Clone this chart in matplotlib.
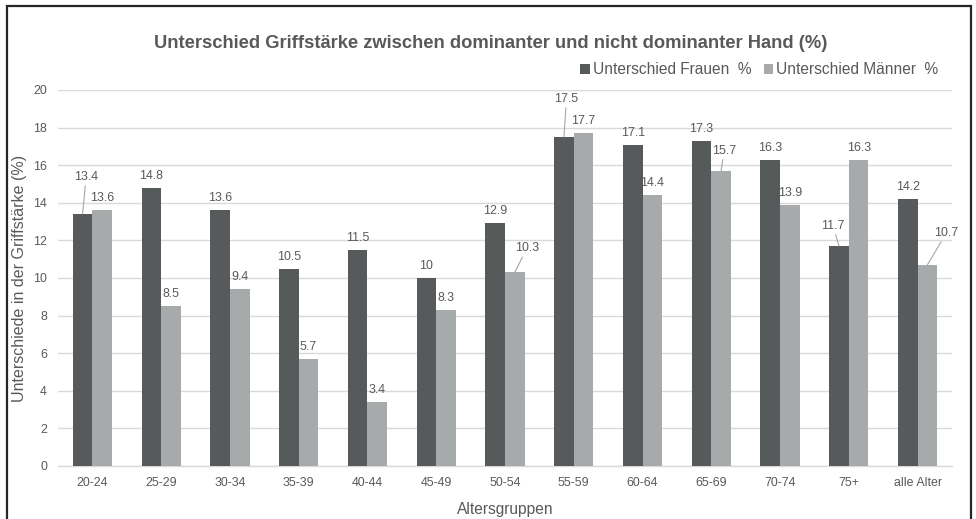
import matplotlib
matplotlib.use("Agg")
import matplotlib.pyplot as plt
from matplotlib.patches import Rectangle
import numpy as np

# Data
age_groups = ["20-24", "25-29", "30-34", "35-39", "40-44", "45-49", "50-54",
              "55-59", "60-64", "65-69", "70-74", "75+", "alle Alter"]
women = [13.4, 14.8, 13.6, 10.5, 11.5, 10, 12.9, 17.5, 17.1, 17.3, 16.3, 11.7, 14.2]
men = [13.6, 8.5, 9.4, 5.7, 3.4, 8.3, 10.3, 17.7, 14.4, 15.7, 13.9, 16.3, 10.7]
series_names = ["Unterschied Frauen  %", "Unterschied Männer  %"]
y_ticks = [0, 2, 4, 6, 8, 10, 12, 14, 16, 18, 20]

# Labels moved away from their bar (pixel offsets), drawn with a leader line
women_moved = {0: (3.5, 37), 7: (2.5, 38), 11: (-6, 20)}
men_moved = {6: (12, 24), 9: (3, 20), 12: (19, 32)}

plt.rcParams["font.family"] = ["Liberation Sans", "DejaVu Sans"]
TXT = "#595959"
DARK = "#575a5a"
LIGHT = "#a7aaaa"
GRID = "#d9d9d9"
LBL = 8.9

W, H, DPI = 976, 519, 100
fig = plt.figure(figsize=(W / DPI, H / DPI), dpi=DPI)
fig.patch.set_facecolor("white")

ax = fig.add_axes([58 / W, 53 / H, (952 - 58) / W, (466 - 90) / H])
x = np.arange(len(age_groups))
bw = 0.285
b1 = ax.bar(x - bw / 2, women, bw, color=DARK, label=series_names[0], zorder=3)
b2 = ax.bar(x + bw / 2, men, bw, color=LIGHT, label=series_names[1], zorder=3)

ax.set_xlim(-0.5, len(age_groups) - 0.5)
ax.set_ylim(0, 20)
ax.set_yticks(y_ticks)
ax.set_xticks(x)
ax.set_xticklabels(age_groups)
ax.tick_params(axis="both", length=0, labelsize=LBL, colors=TXT)
ax.tick_params(axis="y", pad=8)
ax.tick_params(axis="x", pad=8)
ax.grid(axis="y", color=GRID, lw=1, zorder=0)
for s in ["top", "right", "left"]:
    ax.spines[s].set_visible(False)
ax.spines["bottom"].set_color(GRID)
ax.spines["bottom"].set_linewidth(1)

ax.set_xlabel("Altersgruppen", fontsize=11.2, color=TXT, labelpad=9)
ax.set_ylabel("Unterschiede in der Griffstärke (%)", fontsize=11.5, color=TXT,
              va="center")
ax.yaxis.set_label_coords((20 - 58) / (952 - 58), 0.5)

px2pt = 72 / DPI


def label_bars(bars, values, moved):
    for i, (bar, v) in enumerate(zip(bars, values)):
        cx = bar.get_x() + bar.get_width() / 2
        txt = f"{v:g}"
        if i in moved:
            dx, dy = moved[i]
            ax.annotate(txt, xy=(cx, v), xytext=(dx * px2pt, dy * px2pt),
                        textcoords="offset points", ha="center", va="center",
                        fontsize=LBL, color=TXT, zorder=5,
                        arrowprops=dict(arrowstyle="-", color="#a6a6a6", lw=0.8,
                                        shrinkA=0, shrinkB=0))
        else:
            ax.annotate(txt, xy=(cx, v), xytext=(0, 12 * px2pt),
                        textcoords="offset points", ha="center", va="center",
                        fontsize=LBL, color=TXT, zorder=5)


label_bars(b1, women, women_moved)
label_bars(b2, men, men_moved)

fig.text(0.5 * (152 + 829) / W, 1 - 43 / H,
         "Unterschied Griffstärke zwischen dominanter und nicht dominanter Hand (%)",
         ha="center", va="center", fontsize=13.2, fontweight="bold", color=TXT)

leg = ax.legend(loc="center right", bbox_to_anchor=(946 / W, 1 - 70 / H),
                bbox_transform=fig.transFigure, ncol=2, frameon=False,
                fontsize=11.2, handlelength=0.6, handleheight=0.6,
                handletextpad=0.2, columnspacing=0.8, borderpad=0)
for t in leg.get_texts():
    t.set_color(TXT)

# Outer chart frame
fig.add_artist(Rectangle((6.5 / W, -0.05), (971 - 6.5) / W, 1.05 - 5.5 / H,
                         transform=fig.transFigure, fill=False,
                         edgecolor="#262626", lw=1.6))

fig.savefig("out.png", dpi=DPI, facecolor="white")
